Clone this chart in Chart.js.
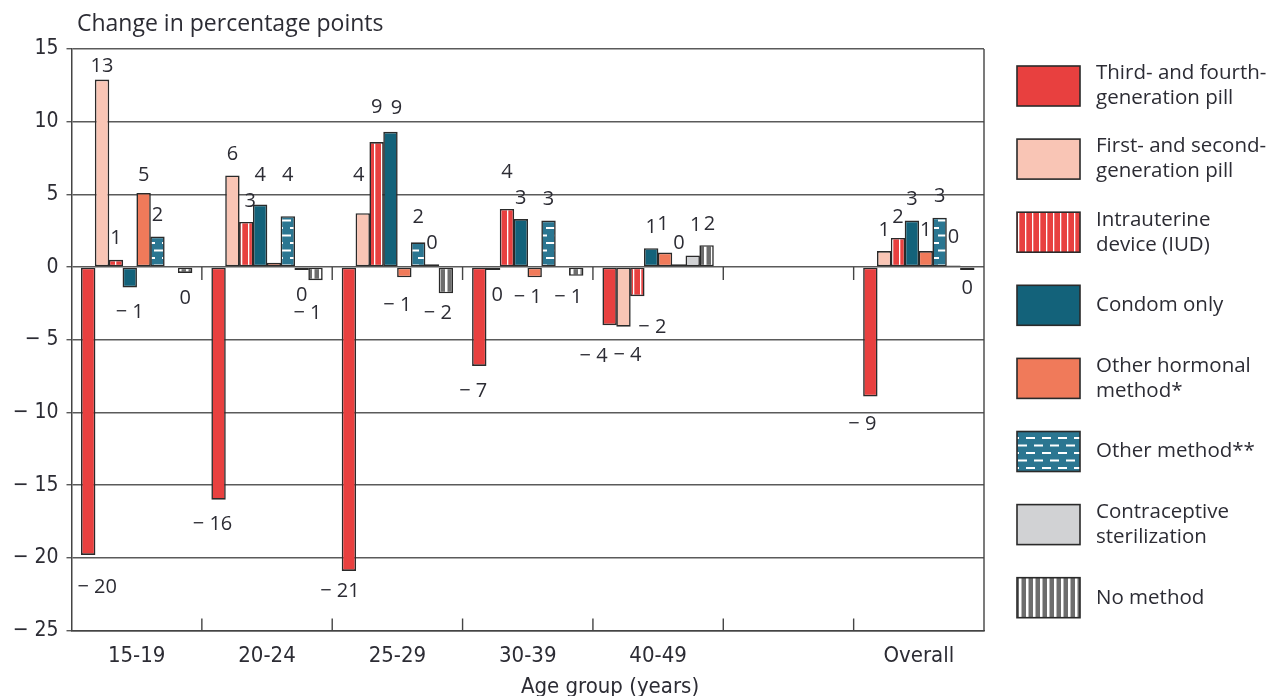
<!DOCTYPE html>
<html>
<head>
<meta charset="utf-8">
<script src="https://cdn.jsdelivr.net/npm/chart.js@4.4.0/dist/chart.umd.min.js"></script>
<style>
  html, body { margin: 0; padding: 0; background: #fff; }
  #wrap { width: 1284px; height: 696px; }
</style>
</head>
<body>
<div id="wrap"><canvas id="changeChart" width="1284" height="696"></canvas></div>
<script>
// Age groups (the sixth slot is an empty spacer before "Overall")
const categories = ['15-19', '20-24', '25-29', '30-39', '40-49', '', 'Overall'];

// Change in percentage points, per contraceptive method
const thirdFourthPill = [-19.8, -16.0, -20.9, -6.8, -4.0, null, -8.9];
const firstSecondPill = [12.9, 6.3, 3.7, -0.2, -4.1, null, 1.1];
const iud             = [0.5, 3.1, 8.6, 4.0, -2.0, null, 2.0];
const condomOnly      = [-1.4, 4.3, 9.3, 3.3, 1.3, null, 3.2];
const otherHormonal   = [5.1, 0.3, -0.7, -0.7, 1.0, null, 1.1];
const otherMethod     = [2.1, 3.5, 1.7, 3.2, 0.2, null, 3.4];
const sterilization   = [null, -0.2, 0.2, null, 0.8, null, 0.1];
const noMethod        = [-0.4, -0.9, -1.8, -0.6, 1.5, null, -0.2];

const seriesNames = [
  ['Third- and fourth-', 'generation pill'],
  ['First- and second-', 'generation pill'],
  ['Intrauterine', 'device (IUD)'],
  ['Condom only'],
  ['Other hormonal', 'method*'],
  ['Other method**'],
  ['Contraceptive', 'sterilization'],
  ['No method']
];

const yTicks = [15, 10, 5, 0, -5, -10, -15, -20, -25];

const narrowFont = '"Liberation Sans Narrow", "DejaVu Sans Condensed", "Roboto Condensed", sans-serif';
const textFont = '"Open Sans", "Noto Sans", sans-serif';
const ink = '#2c2c34';

// hatch patterns
function makePattern(w, h, draw) {
  const c = document.createElement('canvas');
  c.width = w; c.height = h;
  const g = c.getContext('2d');
  draw(g);
  return g.createPattern(c, 'repeat');
}
const red = '#e8403f';
const iudPattern = makePattern(7, 10, g => {
  g.fillStyle = red; g.fillRect(0, 0, 7, 10);
  g.fillStyle = '#ffffff'; g.fillRect(3, 0, 1.3, 10);
});
const noMethodPattern = makePattern(7, 10, g => {
  g.fillStyle = '#6d6d6d'; g.fillRect(0, 0, 7, 10);
  g.fillStyle = '#ffffff'; g.fillRect(4, 0, 2.5, 10);
});
const otherMethodPattern = makePattern(16, 15, g => {
  g.fillStyle = '#2b7691'; g.fillRect(0, 0, 16, 15);
  g.fillStyle = '#ffffff';
  g.fillRect(2, 2, 9, 2);
  g.fillRect(10, 9.5, 9, 2);
  g.fillRect(-6, 9.5, 9, 2);
});

const seriesData = [thirdFourthPill, firstSecondPill, iud, condomOnly, otherHormonal, otherMethod, sterilization, noMethod];
const fills = [red, '#f9c5b5', iudPattern, '#13627a', '#f07a5a', otherMethodPattern, '#d1d2d4', noMethodPattern];

function fmt(v) {
  const r = Math.round(v);
  return r < 0 ? '\u2212 ' + Math.abs(r) : String(Math.abs(r));
}

// value labels above / below each bar
const barLabels = {
  id: 'barLabels',
  afterDatasetsDraw(chart, args, opts) {
    const ctx = chart.ctx;
    ctx.save();
    ctx.font = '20px ' + textFont;
    ctx.fillStyle = ink;
    ctx.textAlign = 'center';
    ctx.textBaseline = 'middle';
    chart.data.datasets.forEach((ds, j) => {
      chart.getDatasetMeta(j).data.forEach((bar, i) => {
        const v = ds.data[i];
        const key = j + ',' + i;
        if (v == null || opts.hidden.includes(key)) return;
        const n = opts.nudge[key] || [0, 0];
        const y = v >= 0 ? bar.y - 21 : bar.y + 25;
        ctx.fillText(fmt(v), bar.x + n[0], y + n[1]);
      });
    });

    // small category ticks on the zero line and on the bottom axis
    const xs = chart.scales.x, ys = chart.scales.y, a = chart.chartArea;
    const y0 = ys.getPixelForValue(0);
    ctx.strokeStyle = '#444';
    ctx.lineWidth = 1.4;
    ctx.beginPath();
    for (let i = 1; i < categories.length; i++) {
      const x = (xs.getPixelForValue(i - 1) + xs.getPixelForValue(i)) / 2;
      ctx.moveTo(x, y0); ctx.lineTo(x, y0 + 13);
      ctx.moveTo(x, a.bottom); ctx.lineTo(x, a.bottom - 12);
    }
    // right frame
    ctx.moveTo(a.right, a.top); ctx.lineTo(a.right, a.bottom);
    ctx.stroke();
    ctx.restore();
  }
};

// titles and the legend at the right
const frameText = {
  id: 'frameText',
  afterDraw(chart) {
    const ctx = chart.ctx;
    ctx.save();
    ctx.fillStyle = ink;
    ctx.textBaseline = 'middle';
    ctx.textAlign = 'left';
    ctx.font = '23px ' + textFont;
    ctx.fillText('Change in percentage points', 77, 24);

    ctx.textAlign = 'center';
    ctx.font = '22px ' + narrowFont;
    ctx.fillText('Age group (years)', 610, 687);

    // legend
    ctx.textAlign = 'left';
    ctx.font = '20.5px ' + textFont;
    chart.data.datasets.forEach((ds, j) => {
      const top = 66 + j * 73.1;
      ctx.fillStyle = ds.backgroundColor;
      ctx.fillRect(1017, top, 63, 40);
      ctx.strokeStyle = '#2a2a2a';
      ctx.lineWidth = 1.6;
      ctx.strokeRect(1017, top, 63, 40);
      ctx.fillStyle = ink;
      const lines = seriesNames[j];
      const cy = top + 20;
      lines.forEach((t, k) => {
        const off = lines.length === 1 ? 0 : (k === 0 ? -12.5 : 12.5);
        ctx.fillText(t, 1096, cy + off);
      });
    });
    ctx.restore();
  }
};

new Chart(document.getElementById('changeChart').getContext('2d'), {
  type: 'bar',
  data: {
    labels: categories,
    datasets: seriesData.map((d, j) => ({
      label: seriesNames[j].join(' '),
      data: d,
      backgroundColor: fills[j],
      borderColor: '#2a2a2a',
      borderWidth: 1.6,
      borderSkipped: false,
      categoryPercentage: 0.85,
      barPercentage: 1.04
    }))
  },
  options: {
    responsive: false,
    animation: false,
    layout: { padding: { top: 49, right: 300, left: 0, bottom: 0 } },
    plugins: {
      legend: { display: false },
      tooltip: { enabled: false },
      barLabels: {
        hidden: ['4,1'],
        nudge: {
          '0,0': [9, 7], '1,0': [0, 8], '4,0': [0, 3],
          '0,1': [-6, 0], '2,1': [4, 0], '3,1': [0, -8], '5,1': [0, -20], '7,1': [-8, 8],
          '0,2': [-9, -5], '1,2': [-4, -17], '2,2': [0, -14], '3,2': [6, -3], '4,2': [-7, 3], '5,2': [0, -4], '7,2': [-8, -5],
          '0,3': [-6, 0], '1,3': [4, 0], '2,3': [0, -16], '4,3': [-7, -5], '7,3': [-8, -3],
          '0,4': [-16, 6], '1,4': [4, 4], '2,4': [15, 6], '4,4': [-2, -7], '6,4': [3, -9], '7,4': [3, 0],
          '0,6': [-8, 3], '6,6': [0, -7], '7,6': [0, -7]
        }
      }
    },
    scales: {
      x: {
        grid: { display: false, drawTicks: false },
        border: { display: true, color: '#444', width: 1.5 },
        ticks: { color: ink, font: { family: narrowFont, size: 22 }, padding: 13, maxRotation: 0 },
        afterFit(scale) { scale.height = 65.5; }
      },
      y: {
        min: -25,
        max: 15,
        afterBuildTicks(scale) { scale.ticks = yTicks.map(v => ({ value: v })); },
        grid: { color: '#5a5a5a', lineWidth: 1.4, tickLength: 5 },
        border: { display: true, color: '#444', width: 1.5 },
        ticks: {
          color: ink,
          font: { family: narrowFont, size: 21 },
          padding: 8,
          callback: v => (v < 0 ? '\u2212 ' + Math.abs(v) : String(v))
        },
        afterFit(scale) { scale.width = 71.5; }
      }
    }
  },
  plugins: [barLabels, frameText]
});
</script>
</body>
</html>
